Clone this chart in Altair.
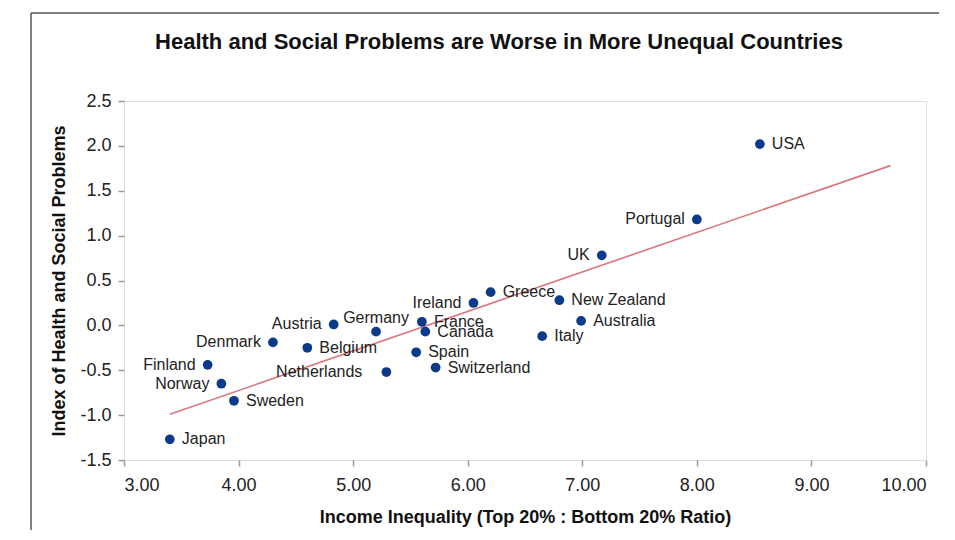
import altair as alt
import pandas as pd

# ---- data ----
countries = ["USA", "Portugal", "UK", "New Zealand", "Australia", "Italy", "Greece",
             "Ireland", "France", "Canada", "Spain", "Switzerland", "Netherlands",
             "Germany", "Austria", "Belgium", "Denmark", "Finland", "Norway",
             "Sweden", "Japan"]
inequality = [8.55, 8.00, 7.17, 6.80, 6.99, 6.65, 6.20,
              6.05, 5.60, 5.63, 5.55, 5.72, 5.29,
              5.20, 4.83, 4.60, 4.30, 3.73, 3.85,
              3.96, 3.40]
index_values = [2.02, 1.18, 0.78, 0.28, 0.05, -0.12, 0.37,
                0.25, 0.04, -0.07, -0.30, -0.47, -0.52,
                -0.07, 0.01, -0.25, -0.19, -0.44, -0.65,
                -0.84, -1.27]
label_side = ["right", "left", "left", "right", "right", "right", "right",
              "left", "right", "right", "right", "right", "farleft",
              "above", "left", "right", "left", "left", "left",
              "right", "right"]

trend_x = [3.40, 9.69]
trend_y = [-0.99, 1.78]

x_ticks = [3, 4, 5, 6, 7, 8, 9, 10]
y_ticks = [-1.5, -1.0, -0.5, 0.0, 0.5, 1.0, 1.5, 2.0, 2.5]

df = pd.DataFrame({"country": countries, "ineq": inequality,
                   "idx": index_values, "side": label_side})
trend = pd.DataFrame({"ineq": trend_x, "idx": trend_y})
one = pd.DataFrame({"k": [0]})

FONT = "Liberation Sans"
W, H = 802, 359

x_scale = alt.Scale(domain=[3, 10], nice=False, zero=False)
y_scale = alt.Scale(domain=[-1.5, 2.5], nice=False, zero=False)

x_axis = alt.Axis(values=x_ticks, format=".2f",
                  title="Income Inequality (Top 20% : Bottom 20% Ratio)",
                  grid=False, domain=False, tickSize=6, tickColor="#9a9a9a", tickWidth=1.5,
                  labelFont=FONT, labelFontSize=18, labelColor="#222", labelPadding=10,
                  titleFont=FONT, titleFontSize=18, titleFontWeight="bold", titleColor="#111",
                  titleY=62, titleBaseline="alphabetic")
y_axis = alt.Axis(values=y_ticks,
                  labelExpr="(datum.value < 0 ? '-' : '') + format(abs(datum.value), '.1f')",
                  title="Index of Health and Social Problems",
                  grid=False, domain=False, tickSize=6, tickColor="#9a9a9a", tickWidth=1.5,
                  labelFont=FONT, labelFontSize=18, labelColor="#222", labelPadding=7,
                  titleFont=FONT, titleFontSize=18, titleFontWeight="bold", titleColor="#111",
                  titleX=-60, titleY=H / 2, titleBaseline="alphabetic", titleAngle=270)

base = alt.Chart(df)

line = alt.Chart(trend).mark_line(color="#d9777e", strokeWidth=1.6).encode(
    x=alt.X("ineq:Q", scale=x_scale, axis=x_axis),
    y=alt.Y("idx:Q", scale=y_scale, axis=y_axis),
)

points = base.mark_circle(size=95, color="#0b3a8a", opacity=1).encode(
    x=alt.X("ineq:Q", scale=x_scale),
    y=alt.Y("idx:Q", scale=y_scale),
)

def labels(side, **kw):
    return base.transform_filter(alt.datum.side == side).mark_text(
        font=FONT, fontSize=16, color="#222", baseline="middle", **kw
    ).encode(
        x=alt.X("ineq:Q", scale=x_scale),
        y=alt.Y("idx:Q", scale=y_scale),
        text="country:N",
    )

lab_right = labels("right", align="left", dx=12)
lab_left = labels("left", align="right", dx=-12)
lab_farleft = labels("farleft", align="right", dx=-24)
lab_above = labels("above", align="center", dy=-14)

# outer frame of the original figure (left and top edges)
frame_v = alt.Chart(one).mark_rule(color="#555555", strokeWidth=1.5).encode(
    x=alt.value(-93), y=alt.value(-88), y2=alt.value(440))
frame_h = alt.Chart(one).mark_rule(color="#555555", strokeWidth=1.5).encode(
    y=alt.value(-88), x=alt.value(-93), x2=alt.value(815))

chart = alt.layer(
    frame_v, frame_h, line, points, lab_right, lab_left, lab_farleft, lab_above
).properties(
    width=W, height=H,
    title=alt.TitleParams(
        "Health and Social Problems are Worse in More Unequal Countries",
        font=FONT, fontSize=22, fontWeight="bold", color="#111",
        anchor="middle", dx=-26, offset=0, dy=59, baseline="alphabetic"),
    autosize=alt.AutoSizeParams(type="none"),
    padding={"left": 116, "top": 93, "right": 21, "bottom": 70},
).configure_view(
    stroke="#a6a6a6", strokeWidth=2
).configure(background="white")

chart.save("out.html", embed_options={"renderer": "svg", "actions": False})
